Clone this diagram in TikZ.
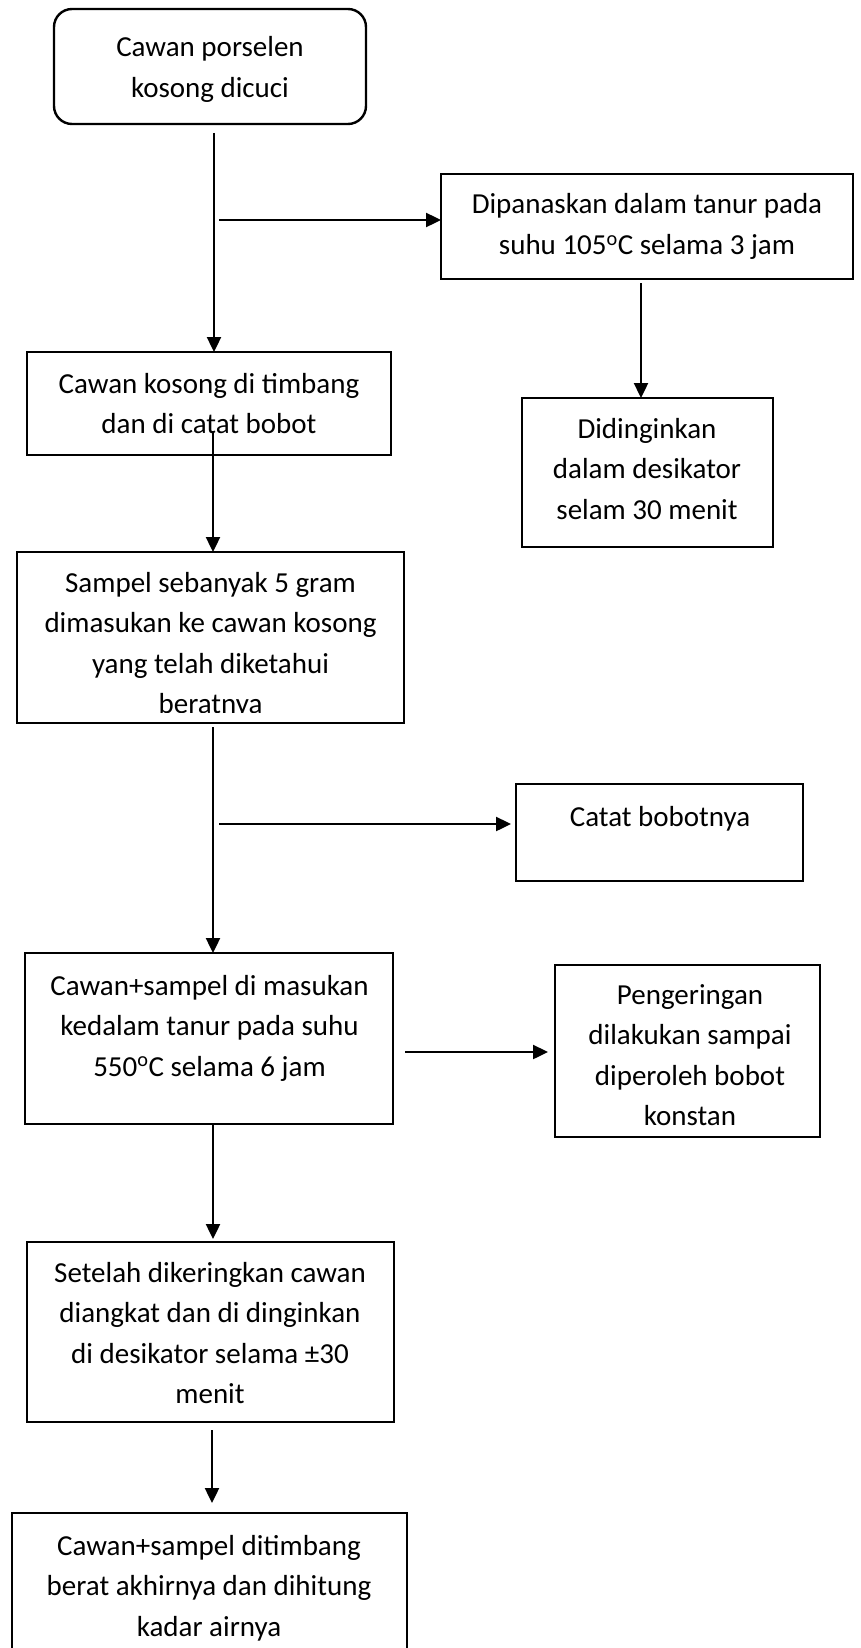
\documentclass[tikz,border=0pt]{standalone}
\usepackage{fontspec}
\setmainfont{Carlito}
\usetikzlibrary{arrows.meta}
\begin{document}
\begin{tikzpicture}[x=1pt,y=-1pt,line width=2.4pt,
  box/.style={draw,rectangle,inner sep=0pt,outer sep=0pt},
  txt/.style={anchor=base,align=center,inner sep=0pt,font=\fontsize{29}{40.5}\selectfont},
  arr/.style={-{Triangle[length=15pt,width=14pt]}}]
\clip (0,0) rectangle (860,1648);
\fill[white] (0,0) rectangle (860,1648);
% boxes
\node[box,minimum width=312pt,minimum height=115pt,rounded corners=18pt] (b1) at (210,66.5) {};
\node[box,minimum width=412pt,minimum height=105pt] (b2) at (647,226.5) {};
\node[box,minimum width=251pt,minimum height=149pt] (b3) at (647.5,472.5) {};
\node[box,minimum width=364pt,minimum height=103pt] (b4) at (209,403.5) {};
\node[box,minimum width=387pt,minimum height=171pt] (b5) at (210.5,637.5) {};
\node[box,minimum width=287pt,minimum height=97pt] (b6) at (659.5,832.5) {};
\node[box,minimum width=368pt,minimum height=171pt] (b7) at (209,1038.5) {};
\node[box,minimum width=265pt,minimum height=172pt] (b8) at (687.5,1051) {};
\node[box,minimum width=367pt,minimum height=180pt] (b9) at (210.5,1332) {};
\node[box,minimum width=395pt,minimum height=200pt] (b10) at (209.5,1613) {};
% texts (anchor base = baseline of last line)
\node[txt] (t1) at (210,97.5) {Cawan porselen\\kosong dicuci};
\node[txt] (t2) at (647,254.5) {Dipanaskan dalam tanur pada\\suhu 105\textsuperscript{o}C selama 3 jam};
\node[txt] (t3) at (647,519) {Didinginkan\\dalam desikator\\selam 30 menit};
\node[txt] (t4) at (209,433.5) {Cawan kosong di timbang\\dan di catat bobot};
\begin{scope}
  \clip (17,552) rectangle (404,712);
  \node[txt] (t5) at (210.5,713.5) {Sampel sebanyak 5 gram\\dimasukan ke cawan kosong\\yang telah diketahui\\beratnya};
\end{scope}
\node[txt] (t6) at (660,826) {Catat bobotnya};
\node[txt] (t7) at (209.5,1076) {Cawan+sampel di masukan\\kedalam tanur pada suhu\\550\textsuperscript{o}C selama 6 jam};
\node[txt] (t8) at (690,1125.5) {Pengeringan\\dilakukan sampai\\diperoleh bobot\\konstan};
\node[txt] (t9) at (210,1403.5) {Setelah dikeringkan cawan\\diangkat dan di dinginkan\\di desikator selama ±30\\menit};
\node[txt] (t10) at (209,1636) {Cawan+sampel ditimbang\\berat akhirnya dan dihitung\\kadar airnya};
% connectors
\coordinate (p1) at (214,133);
\draw[arr] (p1) -- (p1 |- b4.north);
\coordinate (q1) at (219,220);
\draw[arr] (q1) -- (q1 -| b2.west);
\coordinate (p2) at (641,283);
\draw[arr] (p2) -- (p2 |- b3.north);
\coordinate (p3) at (213,431);
\draw[arr] (p3) -- (p3 |- b5.north);
\coordinate (p4) at (213,727);
\draw[arr] (p4) -- (p4 |- b7.north);
\coordinate (q2) at (219,824);
\draw[arr] (q2) -- ([xshift=-5pt]q2 -| b6.west);
\coordinate (q3) at (405,1052);
\draw[arr] (q3) -- ([xshift=-7pt]q3 -| b8.west);
\coordinate (p5) at (213,1124);
\draw[arr] (p5) -- ([yshift=3pt]p5 |- b9.north);
\coordinate (p6) at (212,1430);
\draw[arr] (p6) -- ([yshift=10pt]p6 |- b10.north);
\end{tikzpicture}
\end{document}
